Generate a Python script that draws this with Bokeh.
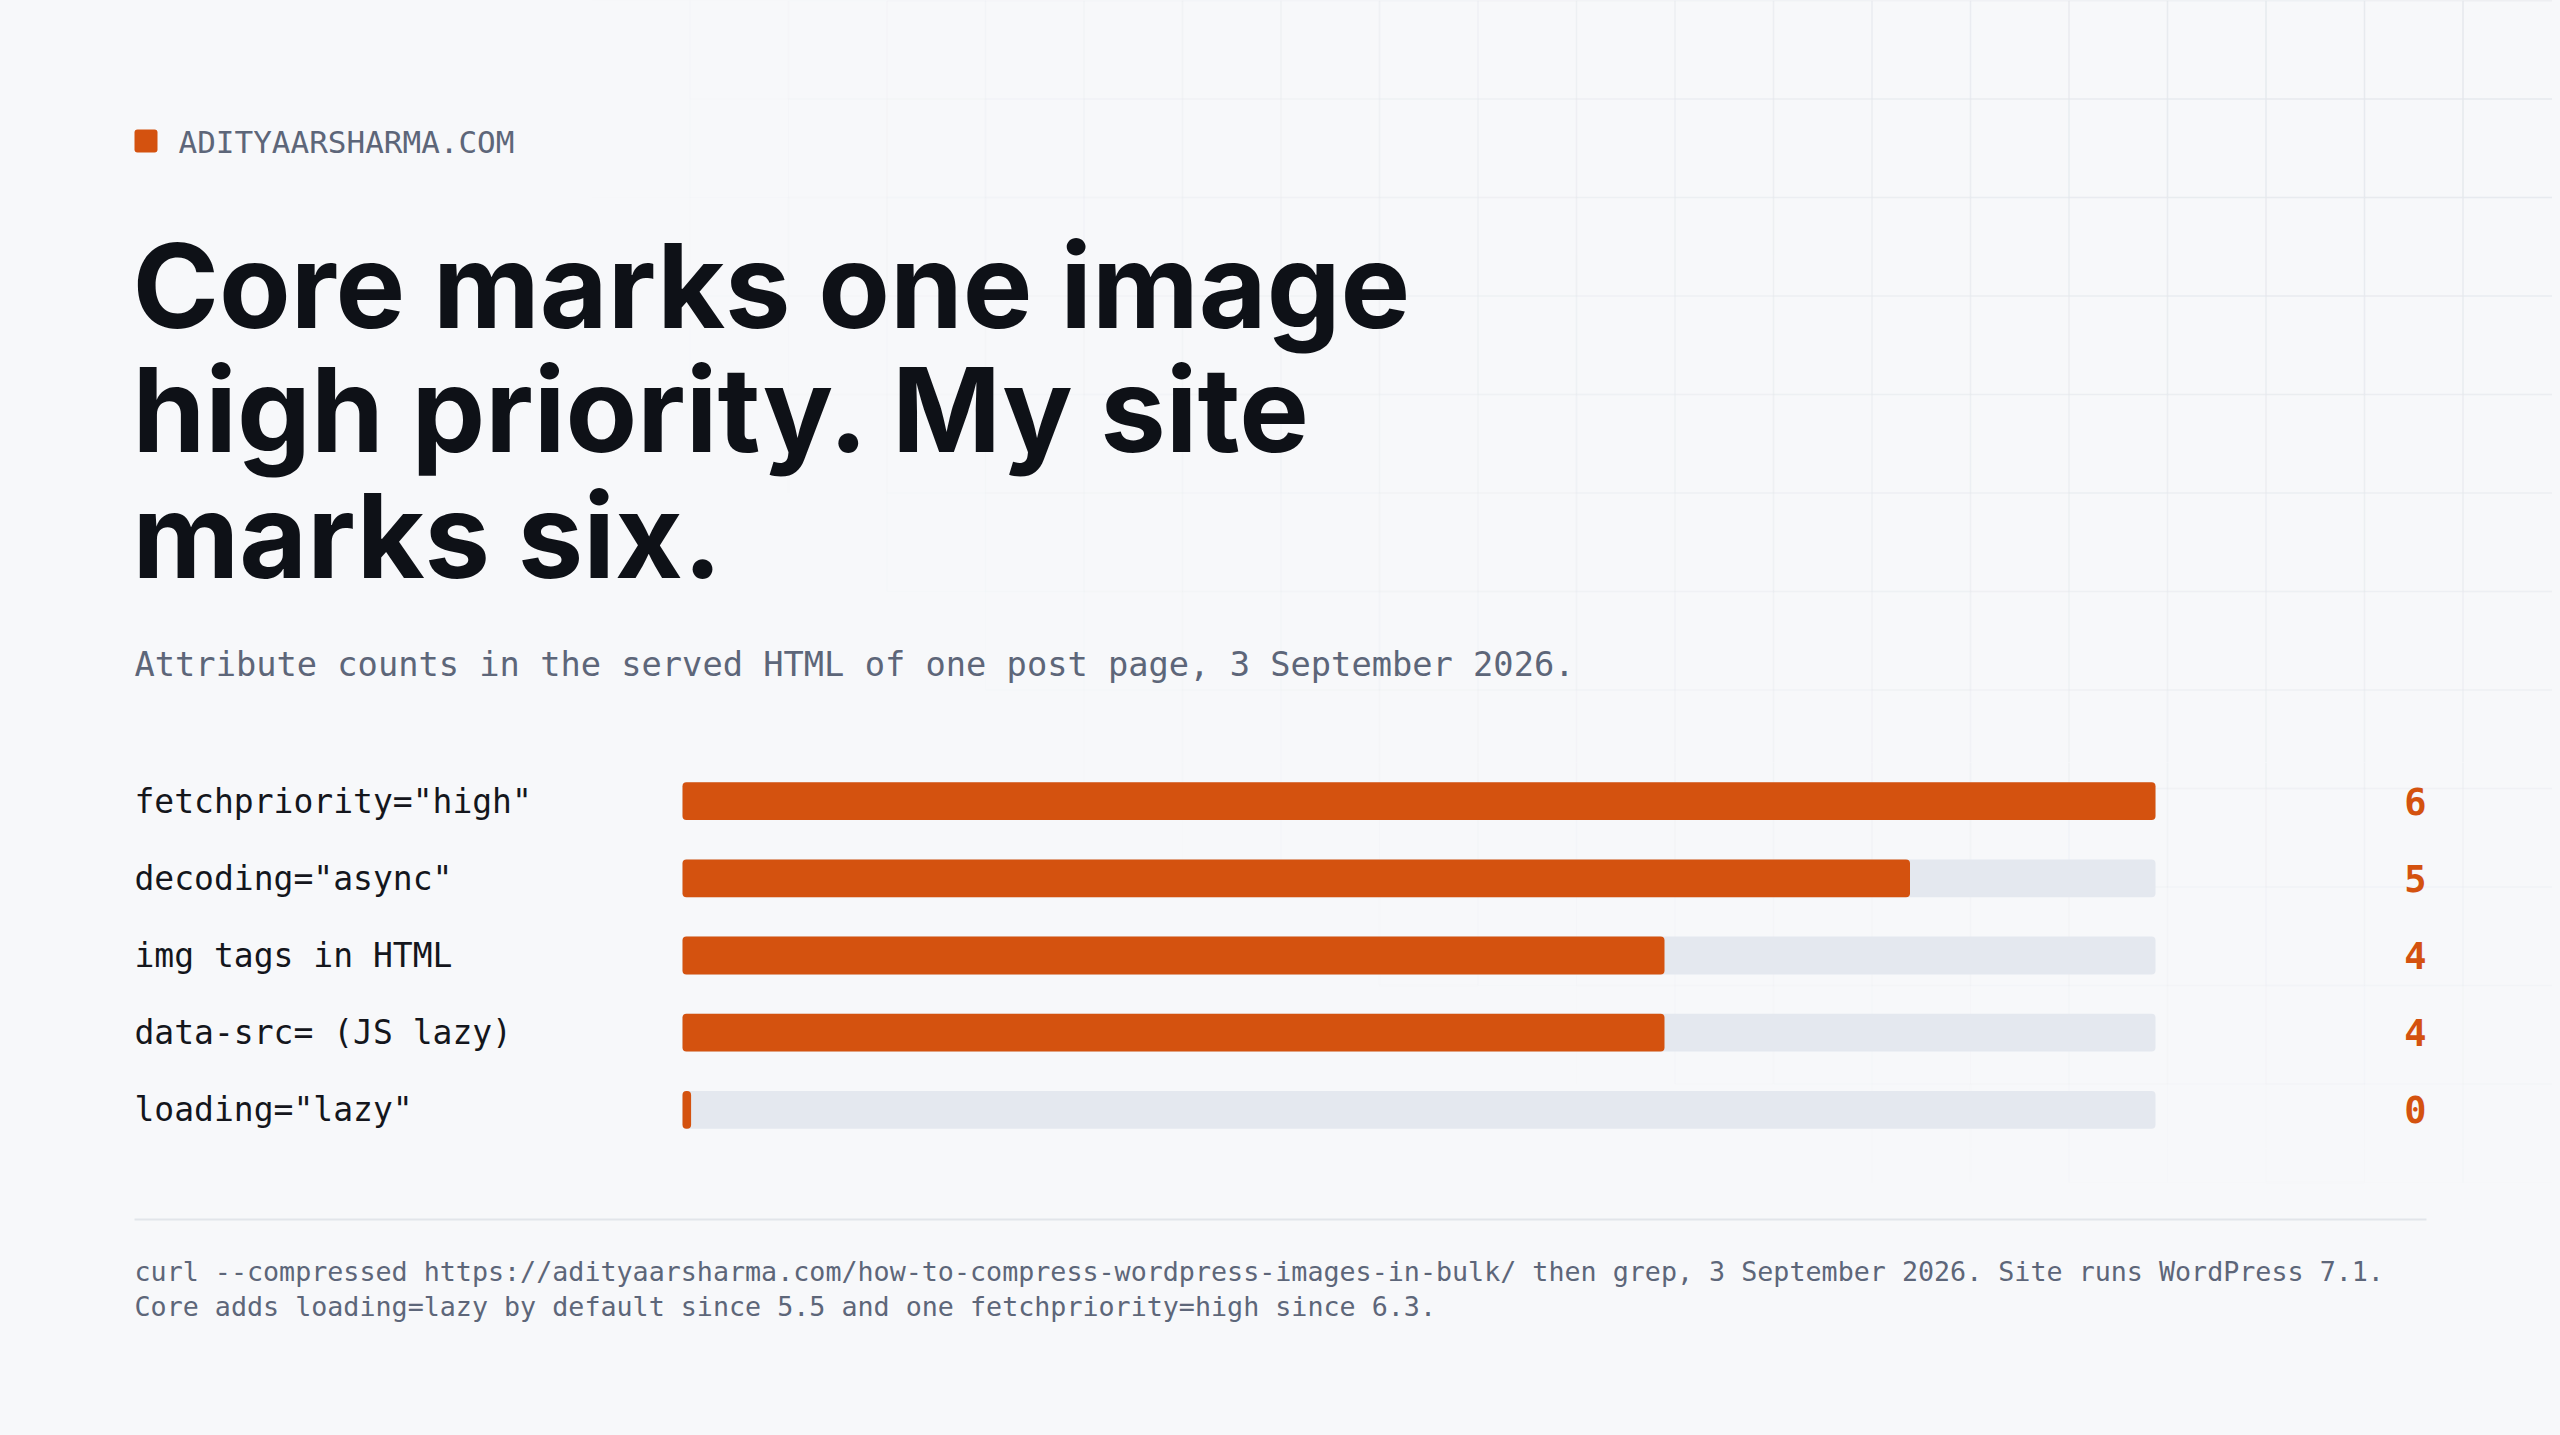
import numpy as np
from bokeh.plotting import figure
from bokeh.layouts import column
from bokeh.models import Range1d, FactorRange, ColumnDataSource
from bokeh.core.properties import value
from bokeh.embed import file_html
from bokeh.resources import INLINE

# ---------------- data ----------------
labels = ['fetchpriority="high"', 'decoding="async"', 'img tags in HTML',
          'data-src= (JS lazy)', 'loading="lazy"']
counts = [6, 5, 4, 4, 0]
brand = "ADITYAARSHARMA.COM"
title_lines = ["Core marks one image", "high priority. My site", "marks six."]
subtitle = "Attribute counts in the served HTML of one post page, 3 September 2026."
footnotes = [
    "curl --compressed https://adityaarsharma.com/how-to-compress-wordpress-images-in-bulk/ then grep, 3 September 2026. Site runs WordPress 7.1.",
    "Core adds loading=lazy by default since 5.5 and one fetchpriority=high since 6.3.",
]

# ---------------- style ----------------
BG = "#f7f8fa"
ORANGE = "#d4520f"
TRACK = "#e4e8ef"
INK = "#0e1117"
MUTED = "#5d6679"
GRIDC = "#e4e7ec"
MONO = value("DejaVu Sans Mono")
SANS = value("Inter")
W = 2552
H_HEAD, H_BARS, H_FOOT = 762, 386, 279
TOP = 0
MIN_BAR = 0.035

# faint background grid (page pixel coordinates), fading from top-right
step = 98.5
gx0, gy0, gx1, gy1, ga = [], [], [], [], []
ncol = int(2560 / step) + 2
nrow = int(1435 / step) + 2


def fade(x, y):
    d = np.hypot(x - 2560, 1.6 * y)
    return max(0.0, 1 - d / 2000)


for k in range(ncol):
    x = k * step
    for j in range(nrow):
        ya, yb = j * step, (j + 1) * step
        a = fade(x, (ya + yb) / 2)
        if a > 0.01:
            gx0.append(x); gx1.append(x); gy0.append(ya); gy1.append(yb); ga.append(a)
for j in range(nrow):
    y = j * step
    for k in range(ncol):
        xa, xb = k * step, (k + 1) * step
        a = fade((xa + xb) / 2, y)
        if a > 0.01:
            gx0.append(xa); gx1.append(xb); gy0.append(y); gy1.append(y); ga.append(a)
gx0, gy0, gx1, gy1, ga = map(np.array, (gx0, gy0, gx1, gy1, ga))


def base_fig(h, xr, yr):
    p = figure(width=W, height=h, x_range=xr, y_range=yr, output_backend="svg",
               toolbar_location=None, min_border=0, background_fill_color=BG,
               border_fill_color=BG, outline_line_color=None)
    p.axis.visible = False
    p.grid.visible = False
    return p


def draw_grid(p, fx=lambda v: v, fy=lambda v: v):
    src = ColumnDataSource(dict(x0=fx(gx0), y0=fy(gy0), x1=fx(gx1), y1=fy(gy1), a=ga))
    p.segment(x0="x0", y0="y0", x1="x1", y1="y1", line_alpha="a", line_color=GRIDC,
              line_width=1.5, source=src)


# ---------------- header ----------------
head = base_fig(H_HEAD, Range1d(TOP, TOP + W), Range1d(TOP + H_HEAD, TOP))
draw_grid(head)
head.quad(left=[134], right=[157], top=[129], bottom=[152], fill_color=ORANGE,
          line_color=None, border_radius=3)
head.text(x=[178], y=[141], text=[brand], text_font=MONO, text_font_size="31px",
          text_color=MUTED, text_baseline="middle", text_align="left")
head.text(x=[132, 132, 132], y=[285, 409, 535], text=title_lines, text_font=SANS,
          text_font_style="bold", text_font_size="117px", text_color=INK,
          text_baseline="alphabetic", text_align="left")
head.text(x=[134], y=[664], text=[subtitle], text_font=MONO, text_font_size="33.7px",
          text_color=MUTED, text_baseline="middle", text_align="left")

# ---------------- bars ----------------
bar_left_px, bar_right_px = 682, 2155
unit = (bar_right_px - bar_left_px) / max(counts)
xr = Range1d((TOP - bar_left_px) / unit, (TOP + W - bar_left_px) / unit)
bars = base_fig(H_BARS, xr, FactorRange(factors=labels[::-1], range_padding=0))
row_px = H_BARS / len(labels)
bars_bottom_px = TOP + H_HEAD + H_BARS
draw_grid(bars, fx=lambda v: (v - bar_left_px) / unit,
          fy=lambda v: (bars_bottom_px - v) / row_px)

src = ColumnDataSource(dict(
    label=labels,
    count=counts,
    shown=[max(c, MIN_BAR) for c in counts],
    full=[max(counts)] * len(counts),
    txt=[str(c) for c in counts],
))
bars.hbar(y="label", left=0, right="full", height=0.49, fill_color=TRACK,
          line_color=None, border_radius=4, source=src)
bars.hbar(y="label", left=0, right="shown", height=0.49, fill_color=ORANGE,
          line_color=None, border_radius=4, source=src)
bars.text(x=(134 - bar_left_px) / unit, y="label", text="label", text_font=MONO,
          text_font_size="33px", text_color="#14161c", text_baseline="middle",
          text_align="left", source=src)
bars.text(x=(2426 - bar_left_px) / unit, y="label", text="txt", text_font=MONO,
          text_font_style="bold", text_font_size="37px", text_color=ORANGE,
          text_baseline="middle", text_align="right", source=src)

# ---------------- footer ----------------
y_top = TOP + H_HEAD + H_BARS
foot = base_fig(H_FOOT, Range1d(TOP, TOP + W), Range1d(y_top + H_FOOT, y_top))
draw_grid(foot)
foot.segment(x0=[134], y0=[1219], x1=[2426], y1=[1219], line_color="#e2e5ea", line_width=2)
foot.text(x=[134, 134], y=[1271, 1306], text=footnotes, text_font=MONO,
          text_font_size="26.7px", text_color=MUTED, text_baseline="middle",
          text_align="left")

layout = column(head, bars, foot, spacing=0)
html = file_html(layout, INLINE, title="Core marks one image high priority")
html = html.replace("<head>", "<head><style>html,body{background:%s;}</style>" % BG, 1)
open("out.html", "w").write(html)
